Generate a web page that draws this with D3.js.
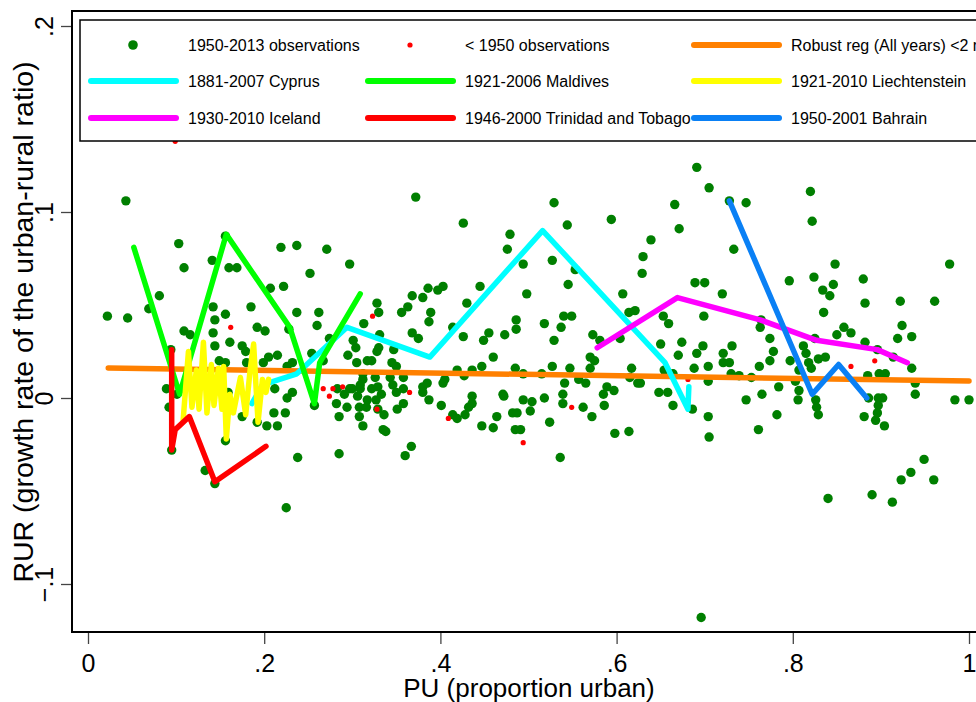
<!DOCTYPE html>
<html>
<head>
<meta charset="utf-8">
<title>RUR vs PU</title>
<script src="https://cdnjs.cloudflare.com/ajax/libs/d3/7.8.5/d3.min.js"></script>
<style>
    body { margin: 0; background: #fff; }
    svg { display: block; font-family: "Liberation Sans", Arial, sans-serif; }
</style>
</head>
<body>
<svg id="chart" width="976" height="702"></svg>
<script>
// 1950-2013 observations [PU, RUR]
const obs = [
    [0.043,0.106],[0.103,0.083],[0.109,0.070],[0.141,0.074],[0.160,0.070],[0.169,0.070],[0.156,0.087],[0.219,0.081],
    [0.237,0.082],[0.081,0.055],[0.069,0.048],[0.022,0.044],[0.045,0.043],[0.142,0.049],[0.144,0.042],[0.156,0.045],
    [0.185,0.049],[0.207,0.059],[0.222,0.060],[0.237,0.046],[0.109,0.036],[0.116,0.034],[0.142,0.035],[0.144,0.028],
    [0.161,0.030],[0.175,0.028],[0.179,0.025],[0.192,0.038],[0.201,0.036],[0.228,0.037],[0.094,0.026],[0.149,0.020],
    [0.156,0.019],[0.180,0.019],[0.199,0.019],[0.205,0.022],[0.215,0.023],[0.232,0.019],[0.226,0.017],[0.089,0.005],
    [0.092,-0.005],[0.101,0.002],[0.159,0.003],[0.175,-0.010],[0.192,-0.013],[0.203,-0.015],[0.215,-0.015],[0.211,-0.008],
    [0.224,-0.008],[0.212,0.005],[0.232,0.003],[0.226,0.000],[0.095,-0.028],[0.156,-0.023],[0.238,-0.032],[0.133,-0.039],
    [0.144,-0.046],[0.225,-0.059],
    [0.271,0.080],[0.297,0.072],[0.252,0.067],[0.262,0.046],[0.260,0.039],[0.313,0.040],[0.328,0.051],[0.274,0.032],
    [0.295,0.023],[0.305,0.019],[0.304,0.027],[0.322,0.020],[0.328,0.025],[0.254,0.024],[0.257,-0.004],[0.282,-0.003],
    [0.285,-0.010],[0.294,-0.005],[0.306,0.001],[0.309,0.005],[0.308,-0.010],[0.312,-0.015],[0.322,0.005],[0.327,-0.001],
    [0.329,-0.006],[0.285,-0.030],[0.372,0.108],[0.368,0.055],[0.363,0.049],[0.356,0.046],[0.330,0.046],[0.368,0.035],
    [0.375,0.032],[0.331,0.034],[0.301,0.031],[0.330,0.027],[0.317,0.020],[0.347,0.026],[0.345,0.019],[0.350,0.017],
    [0.267,0.020],[0.312,0.013],[0.312,0.010],[0.326,0.011],[0.343,0.011],[0.358,0.011],[0.297,0.005],[0.329,0.006],
    [0.283,0.005],[0.291,0.002],[0.300,0.005],[0.317,-0.001],[0.308,-0.005],[0.316,-0.005],[0.336,-0.009],[0.335,-0.017],
    [0.338,-0.018],[0.351,-0.006],[0.358,-0.003],[0.346,0.007],[0.350,0.003],[0.358,0.005],[0.360,-0.031],[0.367,-0.026],
    [0.333,0.002],[0.309,0.007],
    [0.426,0.094],[0.479,0.088],[0.476,0.080],[0.445,0.060],[0.430,0.051],[0.403,0.060],[0.397,0.058],[0.386,0.059],
    [0.380,0.054],[0.389,0.046],[0.387,0.041],[0.414,0.038],[0.426,0.033],[0.449,0.031],[0.455,0.035],[0.473,0.034],
    [0.486,0.042],[0.486,0.037],[0.460,0.022],[0.447,0.017],[0.436,0.015],[0.419,0.015],[0.427,0.012],[0.485,0.016],
    [0.380,0.006],[0.405,0.010],[0.403,0.008],[0.385,0.008],[0.380,0.003],[0.387,-0.001],[0.401,-0.004],[0.414,-0.009],
    [0.419,-0.011],[0.428,-0.009],[0.432,-0.005],[0.436,-0.003],[0.436,0.001],[0.447,-0.015],[0.460,-0.016],[0.464,-0.010],
    [0.471,0.002],[0.482,-0.008],[0.485,-0.017],[0.529,0.105],[0.544,0.093],[0.594,0.096],[0.553,0.069],[0.527,0.074],
    [0.494,0.072],[0.545,0.061],[0.498,0.056],[0.540,0.044],[0.549,0.044],[0.518,0.040],[0.537,0.038],[0.529,0.031],
    [0.573,0.034],[0.581,0.031],[0.604,0.032],[0.607,0.056],[0.614,0.046],[0.621,0.047],[0.570,0.022],[0.575,0.020],
    [0.570,0.016],[0.547,0.016],[0.527,0.017],[0.494,0.013],[0.515,0.013],[0.557,0.010],[0.565,0.008],[0.541,0.008],
    [0.589,0.006],[0.597,0.004],[0.585,0.002],[0.539,0.002],[0.539,-0.003],[0.562,-0.005],[0.572,-0.010],[0.586,-0.004],
    [0.518,0.000],[0.504,-0.002],[0.494,-0.001],[0.502,-0.007],[0.487,-0.008],[0.472,0.001],[0.491,-0.017],[0.524,-0.013],
    [0.598,-0.019],[0.614,-0.018],[0.536,-0.032],
    [0.691,0.124],[0.705,0.113],[0.666,0.104],[0.728,0.106],[0.747,0.105],[0.820,0.111],[0.822,0.095],[0.671,0.091],
    [0.639,0.085],[0.630,0.076],[0.629,0.067],[0.733,0.080],[0.720,0.056],[0.689,0.062],[0.700,0.062],[0.699,0.044],
    [0.653,0.044],[0.659,0.040],[0.796,0.063],[0.824,0.065],[0.848,0.072],[0.846,0.061],[0.834,0.058],[0.842,0.055],
    [0.835,0.046],[0.880,0.064],[0.882,0.051],[0.922,0.052],[0.961,0.052],[0.978,0.072],[0.924,0.039],[0.935,0.033],
    [0.919,0.032],[0.850,0.034],[0.858,0.038],[0.866,0.035],[0.882,0.030],[0.896,0.026],[0.914,0.022],[0.935,0.016],
    [0.939,0.008],[0.939,0.002],[0.984,-0.001],[1.000,-0.001],[0.764,0.042],[0.763,0.038],[0.774,0.032],[0.778,0.025],
    [0.774,0.020],[0.762,0.017],[0.797,0.020],[0.812,0.028],[0.815,0.024],[0.818,0.019],[0.821,0.016],[0.807,0.015],
    [0.829,0.021],[0.837,0.022],[0.825,0.032],[0.885,0.012],[0.898,0.013],[0.905,0.013],[0.650,0.029],[0.674,0.030],
    [0.670,0.023],[0.691,0.024],[0.698,0.028],[0.721,0.024],[0.731,0.028],[0.721,0.019],[0.728,0.019],[0.704,0.017],
    [0.688,0.016],[0.627,0.008],[0.654,0.015],[0.664,0.013],[0.704,0.009],[0.730,0.013],[0.739,0.012],[0.753,0.011],
    [0.784,0.006],[0.803,0.009],[0.648,0.003],[0.658,0.003],[0.664,-0.004],[0.686,-0.006],[0.704,-0.010],[0.705,-0.021],
    [0.747,-0.001],[0.765,0.002],[0.782,-0.009],[0.761,-0.017],[0.807,0.004],[0.806,-0.001],[0.826,-0.001],[0.827,-0.005],
    [0.829,-0.009],[0.881,-0.010],[0.894,-0.012],[0.904,-0.015],[0.897,-0.004],[0.897,0.000],[0.902,0.000],[0.886,0.000],
    [0.896,-0.008],[0.840,-0.054],[0.890,-0.052],[0.913,-0.056],[0.923,-0.044],[0.934,-0.040],[0.949,-0.033],[0.960,-0.044],
    [0.696,-0.118],[0.624,0.008],[0.617,0.016],[0.615,0.011]
];

// < 1950 observations
const early = [
    [0.099,0.138],[0.162,0.038],[0.323,0.044],[0.267,0.005],[0.278,0.005],[0.289,0.006],[0.274,0.001],[0.328,-0.006],
    [0.365,0.003],[0.409,-0.011],[0.494,-0.024],[0.549,-0.005],[0.681,0.010],[0.866,0.017],[0.893,0.020]
];

// robust regression line
const robust = [[0.023,0.0161],[1.0,0.0091]];

// country paths
const cyprus = [[0.186,-0.003],[0.198,0.007],[0.237,0.013],[0.294,0.038],[0.388,0.022],[0.516,0.090],[0.655,0.019],[0.681,-0.006],[0.682,0.006]];
const maldives = [[0.052,0.081],[0.104,0.002],[0.157,0.088],[0.229,0.038],[0.257,-0.003],[0.263,0.019],[0.309,0.056]];
const liechtenstein = [[0.108,-0.012],[0.114,0.025],[0.118,-0.005],[0.123,0.015],[0.126,-0.006],[0.131,0.030],[0.135,-0.008],
    [0.140,0.018],[0.143,-0.004],[0.148,0.016],[0.152,-0.006],[0.154,0.017],[0.157,-0.022],[0.161,0.002],[0.165,-0.008],
    [0.173,0.011],[0.179,-0.009],[0.184,0.015],[0.188,0.029],[0.193,-0.013],[0.198,0.010],[0.202,0.003],[0.205,0.010]];
const iceland = [[0.578,0.027],[0.669,0.054],[0.763,0.042],[0.827,0.031],[0.896,0.026],[0.930,0.019]];
const trinidad = [[0.095,0.026],[0.095,-0.028],[0.099,-0.017],[0.115,-0.010],[0.144,-0.045],[0.202,-0.026]];
const bahrain = [[0.728,0.106],[0.822,0.002],[0.852,0.018],[0.884,0.000]];

const xTicks = [0, 0.2, 0.4, 0.6, 0.8, 1];
const yTicks = [-0.1, 0, 0.1, 0.2];

const svg = d3.select("#chart");

var x = d3.scaleLinear().domain([0, 1]).range([88, 969]);
var y = d3.scaleLinear().domain([-0.1, 0.2]).range([584, 26]);

// stata style labels: .2 instead of 0.2
function fmt(d) {
    return d3.format("")(+d.toFixed(2)).replace("0.", ".");
}

// axes
svg.append("g")
    .attr("transform", "translate(72,0)")
    .call(d3.axisLeft(y).tickValues(yTicks).tickSize(11).tickFormat(fmt))
    .call(g => g.select(".domain").remove())
    .call(g => g.selectAll(".tick line").attr("stroke", "#444").attr("stroke-width", 1.3))
    .call(g => g.selectAll(".tick text")
        .attr("font-size", 25).attr("fill", "#000")
        .attr("text-anchor", "middle")
        .attr("x", 0).attr("dy", 0)
        .attr("transform", "translate(-19,0) rotate(-90)"));

svg.append("g")
    .attr("transform", "translate(0,633)")
    .call(d3.axisBottom(x).tickValues(xTicks).tickSize(11).tickFormat(fmt))
    .call(g => g.select(".domain").remove())
    .call(g => g.selectAll(".tick line").attr("stroke", "#444").attr("stroke-width", 1.3))
    .call(g => g.selectAll(".tick text").attr("font-size", 25).attr("fill", "#000").attr("y", 39).attr("dy", 0));

// frame
svg.append("rect")
    .attr("x", 72).attr("y", 11)
    .attr("width", 930).attr("height", 621)
    .attr("fill", "none").attr("stroke", "#000").attr("stroke-width", 2);

// titles
svg.append("text")
    .attr("x", 529).attr("y", 697)
    .attr("text-anchor", "middle").attr("font-size", 26)
    .text("PU (proportion urban)");

svg.append("text")
    .attr("transform", "translate(33,322) rotate(-90)")
    .attr("text-anchor", "middle").attr("font-size", 28.5)
    .text("RUR (growth rate of the urban-rural ratio)");

// points
svg.append("g").selectAll("circle").data(obs).enter().append("circle")
    .attr("cx", d => x(d[0])).attr("cy", d => y(d[1]))
    .attr("r", 4.7).attr("fill", "#007f00");

svg.append("g").selectAll("circle").data(early).enter().append("circle")
    .attr("cx", d => x(d[0])).attr("cy", d => y(d[1]))
    .attr("r", 2.6).attr("fill", "#ff0000");

var line = d3.line().x(d => x(d[0])).y(d => y(d[1]));

var series = [
    { data: robust, color: "#ff8000" },
    { data: cyprus, color: "#00ffff" },
    { data: maldives, color: "#00ff00" },
    { data: liechtenstein, color: "#ffff00" },
    { data: iceland, color: "#ff00ff" },
    { data: trinidad, color: "#ff0000" },
    { data: bahrain, color: "#0a80f5" }
];

series.forEach(s => {
    svg.append("path")
        .attr("d", line(s.data))
        .attr("fill", "none")
        .attr("stroke", s.color)
        .attr("stroke-width", 5.5)
        .attr("stroke-linejoin", "round")
        .attr("stroke-linecap", "round");
});

// legend
const legendLabels = [
    "1950-2013 observations", "< 1950 observations", "Robust reg (All years) <2 million",
    "1881-2007 Cyprus", "1921-2006 Maldives", "1921-2010 Liechtenstein",
    "1930-2010 Iceland", "1946-2000 Trinidad and Tobago", "1950-2001 Bahrain"
];
const legendKeys = ["dot", "small", "#ff8000", "#00ffff", "#00ff00", "#ffff00", "#ff00ff", "#ff0000", "#0a80f5"];

var lg = svg.append("g");
lg.append("rect")
    .attr("x", 80).attr("y", 20)
    .attr("width", 920).attr("height", 121)
    .attr("fill", "#fff").attr("stroke", "#000").attr("stroke-width", 1.5);

var colX = [90, 367, 693];
var rowY = [45, 81, 118];

legendLabels.forEach((label, i) => {
    var cx = colX[i % 3], cy = rowY[Math.floor(i / 3)];
    var k = legendKeys[i];
    if (k === "dot") {
        lg.append("circle").attr("cx", cx + 43).attr("cy", cy).attr("r", 4.8).attr("fill", "#007f00");
    } else if (k === "small") {
        lg.append("circle").attr("cx", cx + 43).attr("cy", cy).attr("r", 2.6).attr("fill", "#ff0000");
    } else {
        lg.append("line")
            .attr("x1", cx + 1).attr("x2", cx + 86)
            .attr("y1", cy).attr("y2", cy)
            .attr("stroke", k).attr("stroke-width", 6)
            .attr("stroke-linecap", "round");
    }
    lg.append("text")
        .attr("x", cx + 98).attr("y", cy + 6)
        .attr("font-size", 16)
        .text(label);
});
</script>
</body>
</html>
